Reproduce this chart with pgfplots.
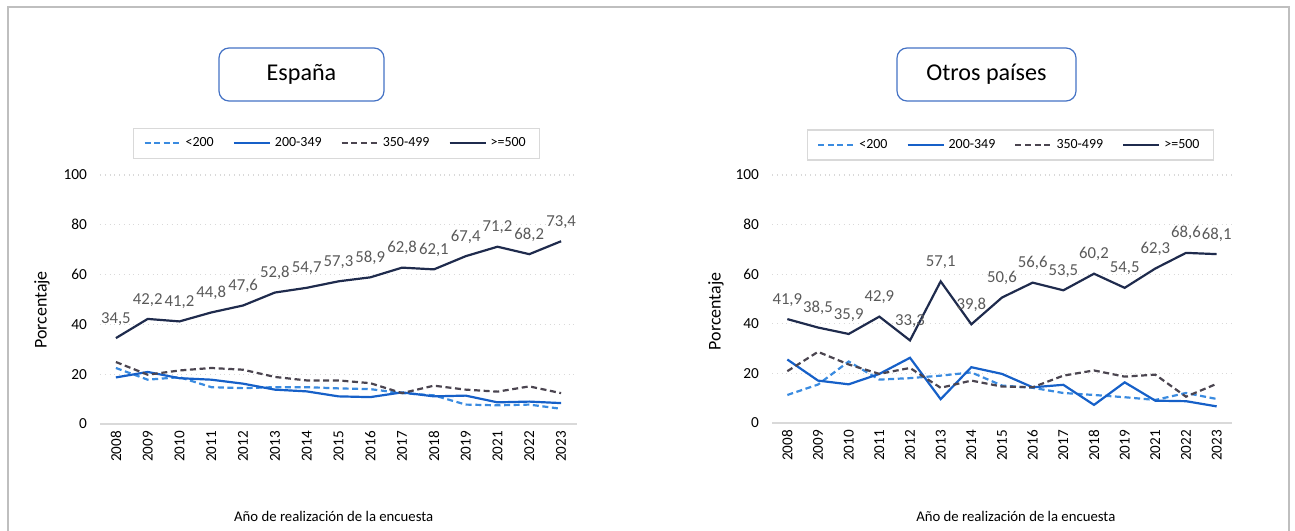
\documentclass[border=0pt]{standalone}
\usepackage{fontspec}
\setmainfont{Carlito}
\usepackage{pgfplots}
\pgfplotsset{compat=1.18}
\usepackage{pgfplotstable}

\definecolor{cA}{HTML}{3A8BE0}
\definecolor{cB}{HTML}{1660C8}
\definecolor{cC}{HTML}{4B4550}
\definecolor{cD}{HTML}{1F2B4D}
\definecolor{lblc}{HTML}{595959}
\definecolor{gridc}{HTML}{D9D9D9}
\definecolor{boxc}{HTML}{4472C4}
\definecolor{framec}{HTML}{BFBFBF}

\pgfplotstableread{
x a b c d
0 22.5 18.7 24.9 34.5
1 17.8 20.9 19.8 42.2
2 18.8 18.4 21.5 41.2
3 14.8 17.8 22.5 44.8
4 14.4 16.2 21.8 47.6
5 14.8 13.8 18.9 52.8
6 14.8 13.1 17.5 54.7
7 14.3 11.1 17.5 57.3
8 14.0 10.8 16.4 58.9
9 12.4 12.7 12.4 62.8
10 11.5 11.1 15.4 62.1
11 7.8 11.4 13.8 67.4
12 7.5 8.7 13.0 71.2
13 7.8 9.0 15.1 68.2
14 6.1 8.4 12.4 73.4
}\espana

\pgfplotstableread{
x a b c d
0 11.3 25.6 20.9 41.9
1 15.5 17.1 28.7 38.5
2 24.8 15.6 23.6 35.9
3 17.5 19.8 19.8 42.9
4 18.1 26.3 22.2 33.3
5 19.1 9.6 14.2 57.1
6 20.4 22.5 17.1 39.8
7 15.1 19.8 14.7 50.6
8 14.2 14.4 14.4 56.6
9 12.1 15.4 19.1 53.5
10 11.3 7.3 21.2 60.2
11 10.4 16.4 18.7 54.5
12 9.3 9.0 19.5 62.3
13 12.1 8.8 10.6 68.6
14 9.7 6.7 15.8 68.1
}\otros

\pgfplotsset{
  myax/.style={
    scale only axis,
    /pgf/number format/assume math mode=true,
    ymin=0, ymax=100, ytick={0,20,...,100},
    xmin=-0.5, xmax=14.5,
    xtick={0,...,14},
    xticklabels={2008,2009,2010,2011,2012,2013,2014,2015,2016,2017,2018,2019,2021,2022,2023},
    axis x line*=bottom, axis y line*=left,
    x axis line style={draw=gridc, line width=0.7bp, -},
    y axis line style={draw=none},
    major tick length=0pt,
    ymajorgrids,
    grid style={draw=gridc, dotted, line width=0.6bp},
    x tick label style={rotate=90, anchor=east, font=\fontsize{7.6}{8}\selectfont, text=black},
    y tick label style={font=\fontsize{7.7}{8}\selectfont, text=black, xshift=-3bp},
    ylabel={Porcentaje},
    ylabel style={font=\fontsize{9}{10}\selectfont, anchor=center},
    xlabel={Año de realización de la encuesta},
    xlabel style={font=\fontsize{7.4}{8}\selectfont, anchor=center},
    clip=false,
    legend columns=4,
    legend cell align=left,
    legend image code/.code={\draw[##1] (0bp,0bp) -- (18bp,0bp);},
    legend style={draw=gridc, line width=0.6bp, fill=white, font=\fontsize{7}{8}\selectfont,
      inner xsep=5bp, inner ysep=2.5bp,
      /tikz/every odd column/.append style={column sep=0bp},
      /tikz/every even column/.append style={column sep=7.5bp}},
  },
  sA/.style={cA, line width=1.1bp, dash pattern=on 3bp off 1.8bp},
  sB/.style={cB, line width=1.1bp},
  sC/.style={cC, line width=1.1bp, dash pattern=on 3bp off 1.8bp},
  sD/.style={cD, line width=1.1bp},
  lbls/.style={nodes near coords={\pgfmathprintnumber[fixed,fixed zerofill,precision=1,use comma]{\pgfplotspointmeta}},
    point meta=y,
    every node near coord/.append style={font=\fontsize{8.4}{9}\selectfont, text=lblc, anchor=south, yshift=2.5bp}},
}

\begin{document}
\begin{tikzpicture}
\useasboundingbox (0bp,0bp) rectangle (647.5bp,-265.5bp);
% outer frame
\draw[framec, line width=0.9bp] (4bp,-275bp) -- (4bp,-3.5bp) -- (644.5bp,-3.5bp) -- (644.5bp,-275bp);
% title boxes
\draw[boxc, line width=0.6bp, rounded corners=5bp] (109.5bp,-24bp) rectangle (192bp,-50.5bp);
\node[font=\fontsize{12.1}{13}\selectfont] at (150.75bp,-37.25bp) {España};
\draw[boxc, line width=0.6bp, rounded corners=5bp] (448.5bp,-24bp) rectangle (538bp,-50.5bp);
\node[font=\fontsize{12.1}{13}\selectfont] at (493.25bp,-37.25bp) {Otros países};

\begin{axis}[myax, at={(50bp,-212bp)}, anchor=south west, width=238.5bp, height=124.5bp,
  ylabel style={at={(rel axis cs:-0.1216,0.458)}},
  xlabel style={at={(rel axis cs:0.49,-0.372)}},
  legend style={at={(rel axis cs:0.496,1.128)}, anchor=center}]
\addplot[sA] table[x=x,y=a] {\espana};
\addlegendentry{<200}
\addplot[sB] table[x=x,y=b] {\espana};
\addlegendentry{200-349}
\addplot[sC] table[x=x,y=c] {\espana};
\addlegendentry{350-499}
\addplot[sD, lbls] table[x=x,y=d] {\espana};
\addlegendentry{>=500}
\end{axis}

\begin{axis}[myax, at={(386bp,-211.5bp)}, anchor=south west, width=230bp, height=124bp,
  ylabel style={at={(rel axis cs:-0.1217,0.45)}},
  xlabel style={at={(rel axis cs:0.53,-0.375)}},
  legend style={at={(rel axis cs:0.518,1.121)}, anchor=center}]
\addplot[sA] table[x=x,y=a] {\otros};
\addlegendentry{<200}
\addplot[sB] table[x=x,y=b] {\otros};
\addlegendentry{200-349}
\addplot[sC] table[x=x,y=c] {\otros};
\addlegendentry{350-499}
\addplot[sD, lbls] table[x=x,y=d] {\otros};
\addlegendentry{>=500}
\end{axis}
\end{tikzpicture}
\end{document}
